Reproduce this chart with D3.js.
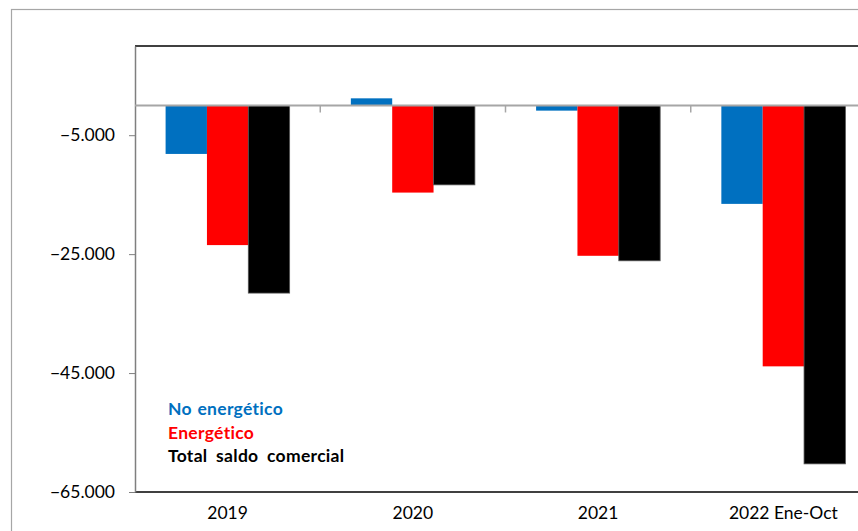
<!DOCTYPE html>
<html><head><meta charset="utf-8">
<script src="https://cdn.jsdelivr.net/npm/d3@7"></script>
<style>body{margin:0;background:#fff}svg{display:block}text{font-family:Lato,"Open Sans",sans-serif}</style>
</head><body><svg id="c" width="858" height="531"></svg>
<script>
const categories = ["2019", "2020", "2021", "2022 Ene-Oct"];
const seriesNames = ["No energético", "Energético", "Total saldo comercial"];
const noEnergetico = [-8150, 1200, -870, -16550];
const energetico = [-23480, -14650, -25280, -43870];
const totalSaldo = [-31550, -13350, -26120, -60270];
const yTicks = [-5000, -25000, -45000, -65000];
const colors = ["#0070C0", "#FF0000", "#000000"];

const seriesVals = [noEnergetico, energetico, totalSaldo];
const svg = d3.select("#c");
const L = 135, R = 876, T = 46, B = 492;

// outer border
svg.append("rect").attr("x", 11.5).attr("y", 9.5).attr("width", 900).attr("height", 600)
  .attr("fill", "none").attr("stroke", "#a6a6a6").attr("stroke-width", 1.2);

const y = d3.scaleLinear().domain([-65000, 10000]).range([B, T]);
const x0 = d3.scaleBand().domain(categories).range([L, R]).padding(0);
const x1 = d3.scaleBand().domain(seriesNames).range([0, x0.bandwidth()]).paddingInner(0).paddingOuter(0.74);

// bars
seriesNames.forEach((s, si) => {
  svg.append("g").selectAll("rect").data(categories).join("rect")
    .attr("x", c => x0(c) + x1(s))
    .attr("width", x1.bandwidth())
    .attr("y", (c, i) => y(Math.max(0, seriesVals[si][i])))
    .attr("height", (c, i) => Math.abs(y(seriesVals[si][i]) - y(0)))
    .attr("fill", colors[si])
    .attr("stroke", si === 2 ? "#555" : "none").attr("stroke-width", 0.8);
});

// plot top & bottom borders
svg.append("line").attr("x1", L).attr("x2", R).attr("y1", T).attr("y2", T).attr("stroke", "#000").attr("stroke-width", 1.5);
svg.append("line").attr("x1", L).attr("x2", R).attr("y1", B).attr("y2", B).attr("stroke", "#000").attr("stroke-width", 1.5);

// y axis
const yAxis = d3.axisLeft(y).tickValues(yTicks).tickSize(6).tickSizeOuter(0).tickPadding(14)
  .tickFormat(d => d3.format(",")(d).replace(/,/g, "."));
const gy = svg.append("g").attr("transform", `translate(${L},0)`).call(yAxis);
gy.select(".domain").attr("stroke", "#7f7f7f").attr("stroke-width", 1.5);
gy.selectAll(".tick line").attr("stroke", "#7f7f7f");
gy.selectAll(".tick text").attr("font-size", 17.5).attr("fill", "#000").attr("font-family", "Lato");

// zero line with category boundary ticks
const bounds = categories.map(c => x0(c));
svg.append("line").attr("x1", L).attr("x2", R).attr("y1", y(0)).attr("y2", y(0))
  .attr("stroke", "#a6a6a6").attr("stroke-width", 2);
svg.append("g").selectAll("line").data(bounds.slice(1)).join("line")
  .attr("x1", d => d).attr("x2", d => d).attr("y1", y(0)).attr("y2", y(0) + 7)
  .attr("stroke", "#a6a6a6").attr("stroke-width", 1.5);

// category labels at bottom
svg.append("g").selectAll("text").data(categories).join("text")
  .attr("x", c => x0(c) + x0.bandwidth() / 2)
  .attr("y", 519).attr("text-anchor", "middle").attr("font-size", 17.5).attr("fill", "#000")
  .text(c => c);

// legend (text only)
svg.append("g").selectAll("text").data(seriesNames).join("text")
  .attr("x", 168).attr("y", (d, i) => 415 + i * 23.5)
  .attr("font-size", 17.5).attr("font-weight", "bold").attr("fill", (d, i) => colors[i])
  .attr("letter-spacing", 0.3).attr("word-spacing", (d, i) => i === 2 ? 4 : 1)
  .text(d => d);
</script></body></html>
